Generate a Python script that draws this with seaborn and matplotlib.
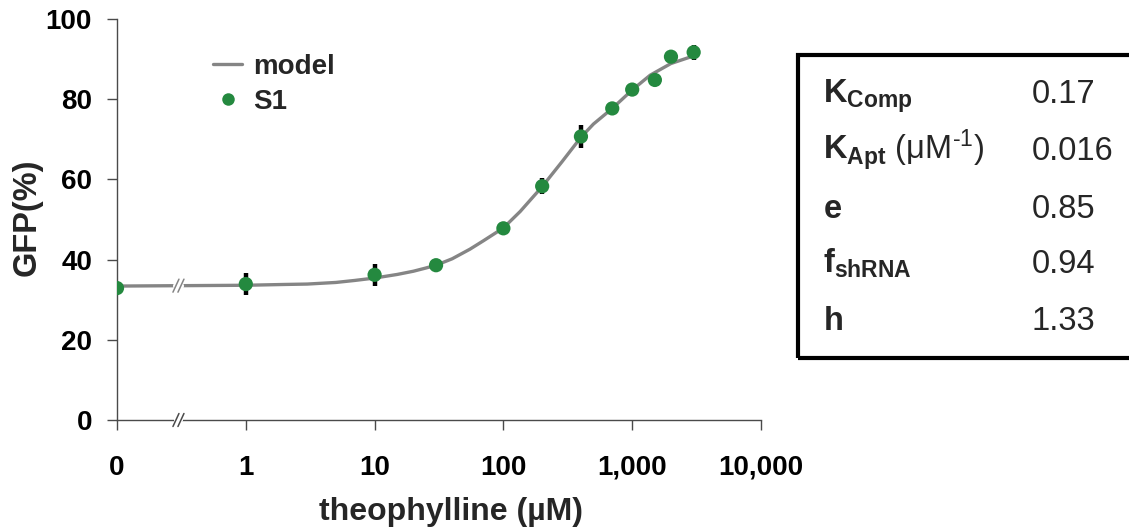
import numpy as np
import pandas as pd
import matplotlib
matplotlib.use("Agg")
import matplotlib.pyplot as plt
import seaborn as sns
from matplotlib.lines import Line2D
from matplotlib.patches import Rectangle
from matplotlib.transforms import IdentityTransform
from matplotlib.ticker import NullLocator

# ---------------- data ----------------
conc = [0, 1, 10, 30, 100, 200, 400, 700, 1000, 1500, 2000, 3000]
gfp = [32.9, 33.9, 36.2, 38.6, 47.8, 58.3, 70.7, 77.7, 82.4, 84.8, 90.6, 91.7]
err = [1.0, 2.7, 2.8, 1.0, 1.0, 2.0, 2.8, 1.0, 1.0, 1.0, 1.0, 1.9]

model_conc = [0, 1, 2, 3, 5, 7, 10, 15, 20, 25, 30, 40, 55, 70, 100, 135,
              200, 285, 400, 500, 700, 1000, 1380, 2000, 3000]
model_gfp = [33.4, 33.6, 33.8, 33.9, 34.3, 34.8, 35.4, 36.3, 37.1, 37.9, 38.6,
             40.2, 42.6, 44.7, 47.9, 52.0, 58.2, 64.4, 70.5, 73.8, 77.7, 82.3,
             86.0, 88.9, 90.8]

xtick_vals = [0, 1, 10, 100, 1000, 10000]
xtick_labels = ["0", "1", "10", "100", "1,000", "10,000"]
ytick_vals = [0, 20, 40, 60, 80, 100]

param_names = [r"$\mathbf{K}_{\mathbf{Comp}}$",
               r"$\mathbf{K}_{\mathbf{Apt}}$ (μM$^{\text{-}1}$)",
               r"$\mathbf{e}$",
               r"$\mathbf{f}_{\mathbf{shRNA}}$",
               r"$\mathbf{h}$"]
param_values = ["0.17", "0.016", "0.85", "0.94", "1.33"]

ZERO_AT = 0.1      # where concentration 0 sits on the broken log axis
BREAK_AT = 0.3     # position of the axis break

GREEN = "#24893F"
GRAY = "#858585"
AXCOL = "#4a4a4a"

# ---------------- style ----------------
sns.set_style("ticks")
plt.rcParams["font.family"] = ["Liberation Sans", "DejaVu Sans"]
plt.rcParams["mathtext.fontset"] = "custom"
plt.rcParams["mathtext.rm"] = "Liberation Sans"
plt.rcParams["mathtext.bf"] = "Liberation Sans:bold"
plt.rcParams["mathtext.it"] = "Liberation Sans:italic"
plt.rcParams["mathtext.sf"] = "Liberation Sans"

W, H = 1129, 531
fig = plt.figure(figsize=(W / 100, H / 100), dpi=100)
ax = fig.add_axes([117 / W, 1 - 420 / H, (761 - 117) / W, (420 - 19) / H])


def xpos(c):
    return ZERO_AT if c == 0 else c


pts = pd.DataFrame({"x": [xpos(c) for c in conc], "gfp": gfp, "err": err})
mdl = pd.DataFrame({"x": [xpos(c) for c in model_conc], "gfp": model_gfp})

sns.lineplot(data=mdl, x="x", y="gfp", color=GRAY, lw=2.4, sort=False,
             ax=ax, zorder=2)
ax.errorbar(pts["x"], pts["gfp"], yerr=pts["err"], fmt="none",
            ecolor="black", elinewidth=3.2, capsize=0, zorder=3)
sns.scatterplot(data=pts, x="x", y="gfp", color=GREEN, s=105,
                edgecolor="none", linewidth=0, ax=ax, zorder=4)

ax.set_xscale("log")
ax.set_xlim(ZERO_AT, 10000)
ax.set_ylim(0, 100)
ax.set_xticks([xpos(v) for v in xtick_vals])
ax.set_xticklabels(xtick_labels)
ax.xaxis.set_minor_locator(NullLocator())
ax.set_yticks(ytick_vals)
ax.set_yticklabels([str(v) for v in ytick_vals])
ax.set_xlabel("")
ax.set_ylabel("")

for s in ["top", "right"]:
    ax.spines[s].set_visible(False)
for s in ["left", "bottom"]:
    ax.spines[s].set_color(AXCOL)
    ax.spines[s].set_linewidth(1.0)
ax.tick_params(axis="both", colors=AXCOL, labelcolor="black", width=1.0,
               length=7, labelsize=20)
ax.tick_params(axis="x", pad=18)
ax.tick_params(axis="y", pad=11)
for lbl in ax.get_xticklabels() + ax.get_yticklabels():
    lbl.set_fontweight("bold")

fig.text(451 / W, 1 - 512 / H, "theophylline (µM)", ha="center", va="center",
         fontsize=23, fontweight="bold")
fig.text(27 / W, 1 - 217 / H, "GFP(%)", ha="center", va="center",
         rotation=90, fontsize=23.5, fontweight="bold")

# legend
handles = [Line2D([], [], color=GRAY, lw=2.4),
           Line2D([], [], marker="o", ls="none", color=GREEN, markersize=9,
                  markeredgewidth=0)]
leg = ax.legend(handles, ["model", "S1"], loc="upper left",
                bbox_to_anchor=(213 / W, 1 - 54 / H),
                bbox_transform=fig.transFigure, frameon=False, borderpad=0,
                borderaxespad=0, handlelength=1.05, handletextpad=0.38,
                labelspacing=0.33, prop={"weight": "bold", "size": 20})

# axis break marks
fig.canvas.draw()


def break_mark(x, y, lw_line, col):
    px, py = ax.transData.transform((x, y))
    fig.add_artist(Line2D([px - 2.5, px + 2.5], [py, py], color="white",
                          lw=lw_line + 2, transform=IdentityTransform(),
                          zorder=10))
    for dx in (-2.5, 2.5):
        fig.add_artist(Line2D([px + dx - 3.0, px + dx + 3.0],
                              [py - 6.5, py + 6.5], color=col, lw=1.1,
                              transform=IdentityTransform(), zorder=11))


break_mark(BREAK_AT, 0, 1.0, AXCOL)
break_mark(BREAK_AT, 33.5, 2.4, GRAY)

# parameter table
fig.add_artist(Rectangle((798 / W, 1 - 358 / H), (1160 - 798) / W,
                         (358 - 55) / H, transform=fig.transFigure,
                         fill=False, edgecolor="black", lw=3.0,
                         clip_on=False))
baselines = [103, 160, 218, 273, 330]
for name, val, b in zip(param_names, param_values, baselines):
    fig.text(823 / W, 1 - b / H, name, ha="left", va="baseline", fontsize=23.5)
    fig.text(1032 / W, 1 - b / H, val, ha="left", va="baseline", fontsize=23.5)

fig.savefig("out.png", dpi=100)
